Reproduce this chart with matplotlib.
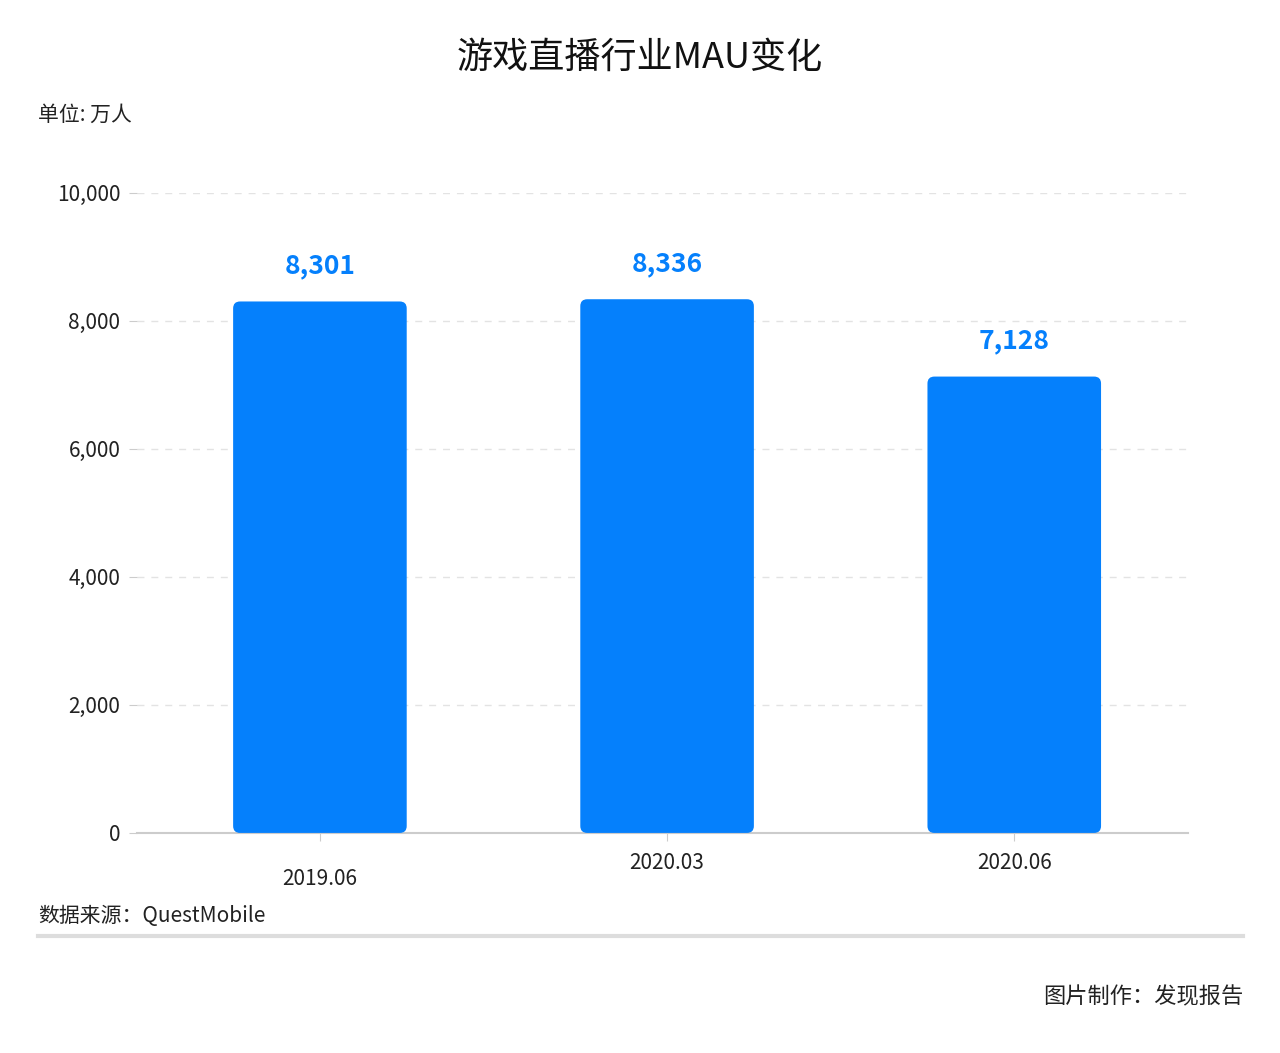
import matplotlib.pyplot as plt
from matplotlib.patches import FancyBboxPatch
from matplotlib.lines import Line2D

plt.rcParams["font.family"] = "Noto Sans CJK SC"

# data
categories = ["2019.06", "2020.03", "2020.06"]
values = [8301, 8336, 7128]
value_labels = ["8,301", "8,336", "7,128"]
y_ticks = [0, 2000, 4000, 6000, 8000, 10000]
y_tick_labels = ["0", "2,000", "4,000", "6,000", "8,000", "10,000"]

BLUE = "#0580fc"

fig = plt.figure(figsize=(12.8, 10.53), dpi=100)
ax = fig.add_axes([0.107, 0.209, 0.821, 0.608])

x = range(len(categories))
bars = ax.bar(x, values, width=0.5, color=BLUE)
# rounded corners
for b in bars:
    b.set_visible(False)
    p = FancyBboxPatch((b.get_x(), b.get_y()), b.get_width(), b.get_height(),
                       boxstyle="round,pad=0,rounding_size=0.02",
                       mutation_aspect=5400, fc=BLUE, ec="none", zorder=3)
    ax.add_patch(p)

for i, v in enumerate(values):
    ax.text(i, v + 350, value_labels[i], ha="center", va="bottom",
            fontsize=19, fontweight="bold", color=BLUE)

ax.set_xlim(-0.527, 2.5)
ax.set_ylim(0, 10000)
ax.set_yticks(y_ticks)
ax.set_yticklabels(y_tick_labels, fontsize=15, color="#222222")
ax.set_xticks(list(x))
ax.set_xticklabels(categories, fontsize=15, color="#222222")
# first label sits a bit lower in the reference
ax.get_xticklabels()[0].set_y(-0.025)
ax.tick_params(axis="y", length=6, color="#cccccc", pad=6)
ax.tick_params(axis="x", length=6, color="#cccccc", pad=8)
ax.grid(axis="y", linestyle=(0, (5, 5)), color="#e3e3e3", linewidth=1)
ax.set_axisbelow(True)
for s in ["top", "right", "left"]:
    ax.spines[s].set_visible(False)
ax.spines["bottom"].set_color("#cccccc")
ax.spines["bottom"].set_linewidth(1.5)

fig.text(0.5, 0.945, "游戏直播行业MAU变化", ha="center", va="center", fontsize=26, color="#111111")
fig.text(0.03, 0.891, "单位: 万人", ha="left", va="center", fontsize=15, color="#222222")
fig.text(0.03, 0.130, "数据来源：QuestMobile", ha="left", va="center", fontsize=15, color="#222222")
fig.add_artist(Line2D([0.03, 0.971], [0.111, 0.111], color="#dddddd", linewidth=3))
fig.text(0.971, 0.053, "图片制作：发现报告", ha="right", va="center", fontsize=16, color="#222222")

fig.savefig("out.png", dpi=100)
